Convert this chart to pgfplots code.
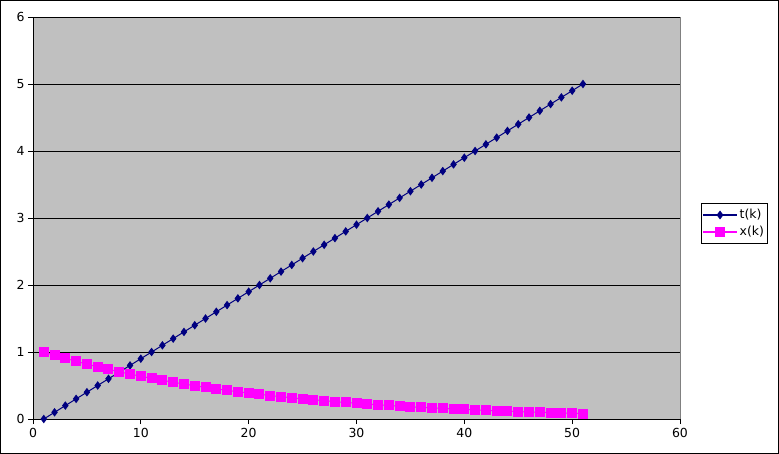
\documentclass[border=0pt]{standalone}
\usepackage{pgfplots}
\pgfplotsset{compat=1.18}
\usepackage{fontspec}
\setmainfont{DejaVu Sans}
\definecolor{plotgray}{HTML}{C0C0C0}
\definecolor{tnavy}{HTML}{000080}
\definecolor{xmag}{HTML}{FF00FF}
\begin{document}
\begin{tikzpicture}
\draw[black, line width=1bp] (-32.5bp,-34.5bp) rectangle (745.5bp,418.5bp);
\begin{axis}[
  at={(0,0)}, anchor=origin,
  scale only axis, width=647bp, height=402bp,
  xmin=0, xmax=60, ymin=0, ymax=6,
  xtick={0,10,...,60}, ytick={0,1,...,6},
  tick align=outside, tick pos=left,
  major tick length=5bp,
  axis background/.style={fill=plotgray},
  axis line style={black, line width=0.8bp},
  ymajorgrids, grid style={black, line width=0.8bp},
  tick style={black, line width=0.8bp},
  ticklabel style={font=\fontsize{12.5}{14}\selectfont},
  xticklabel style={yshift=-1bp},
  /pgf/number format/assume math mode=true,
  legend style={at={(1.0325,0.537)}, anchor=north west, draw=black, line width=0.8bp,
    font=\fontsize{12.5}{14}\selectfont, row sep=2bp, inner xsep=1bp, inner ysep=4bp,
    nodes={inner xsep=2bp}},
  legend image code/.code={\draw[line width=1.2bp, mark repeat=2,mark phase=2] plot coordinates {(0bp,0bp)(17bp,0bp)(34bp,0bp)};},
  legend cell align=left,
  clip=false,
]
\addplot[tnavy, line width=1bp, mark=diamond*, mark size=3.5bp, mark options={fill=tnavy, draw=tnavy}] coordinates {
(1,0.0)(2,0.1)(3,0.2)(4,0.3)(5,0.4)(6,0.5)(7,0.6)(8,0.7)(9,0.8)(10,0.9)
(11,1.0)(12,1.1)(13,1.2)(14,1.3)(15,1.4)(16,1.5)(17,1.6)(18,1.7)(19,1.8)(20,1.9)
(21,2.0)(22,2.1)(23,2.2)(24,2.3)(25,2.4)(26,2.5)(27,2.6)(28,2.7)(29,2.8)(30,2.9)
(31,3.0)(32,3.1)(33,3.2)(34,3.3)(35,3.4)(36,3.5)(37,3.6)(38,3.7)(39,3.8)(40,3.9)
(41,4.0)(42,4.1)(43,4.2)(44,4.3)(45,4.4)(46,4.5)(47,4.6)(48,4.7)(49,4.8)(50,4.9)
(51,5.0)};
\addlegendentry{t(k)\hspace{12bp}}
\addplot[xmag, line width=1bp, mark=square*, mark size=4.5bp, mark options={fill=xmag, draw=xmag}] coordinates {
(1,1.000)(2,0.951)(3,0.905)(4,0.861)(5,0.819)(6,0.779)(7,0.741)(8,0.705)(9,0.670)(10,0.638)
(11,0.607)(12,0.577)(13,0.549)(14,0.522)(15,0.497)(16,0.472)(17,0.449)(18,0.427)(19,0.407)(20,0.387)
(21,0.368)(22,0.350)(23,0.333)(24,0.317)(25,0.301)(26,0.287)(27,0.273)(28,0.259)(29,0.247)(30,0.235)
(31,0.223)(32,0.212)(33,0.202)(34,0.192)(35,0.183)(36,0.174)(37,0.165)(38,0.157)(39,0.150)(40,0.142)
(41,0.135)(42,0.129)(43,0.122)(44,0.116)(45,0.111)(46,0.105)(47,0.100)(48,0.095)(49,0.091)(50,0.086)
(51,0.082)};
\addlegendentry{x(k)\hspace{12bp}}
\draw[gray, line width=0.8bp] (rel axis cs:1,0) -- (rel axis cs:1,1);
\end{axis}
\end{tikzpicture}
\end{document}
